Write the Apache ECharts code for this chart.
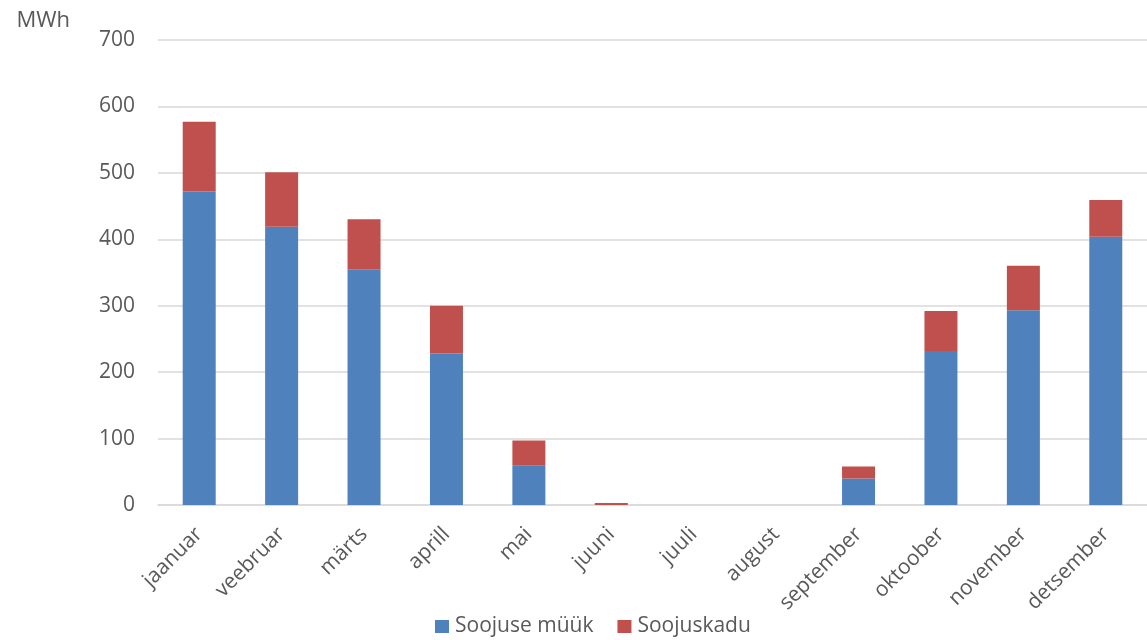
<!DOCTYPE html>
<html>
<head>
<meta charset="utf-8">
<script src="https://cdn.jsdelivr.net/npm/echarts@6/dist/echarts.min.js"></script>
<style>
    html, body { margin: 0; padding: 0; background: #fff; }
    #chart { width: 1147px; height: 640px; }
</style>
</head>
<body>
<div id="chart"></div>
<script>
// kuud
const kuud = ['jaanuar', 'veebruar', 'märts', 'aprill', 'mai', 'juuni', 'juuli', 'august', 'september', 'oktoober', 'november', 'detsember'];

// MWh
const soojuseMyyk = [472, 419, 355, 228, 59, 0, 0, 0, 40, 232, 293, 404];
const soojuskadu = [105, 82, 75, 72, 38, 3, 0, 0, 18, 60, 67, 55];

const yTicks = [0, 100, 200, 300, 400, 500, 600, 700];

const teksti = '#595959';
const font = 'Open Sans';

var myChart = echarts.init(document.getElementById('chart'));

var option = {
    animation: false,
    textStyle: { fontFamily: font },
    grid: {
        left: 158,
        top: 40,
        width: 998,
        height: 465,
        containLabel: false
    },
    legend: {
        top: 611,
        left: 430,
        itemWidth: 14,
        itemHeight: 13,
        itemGap: 24,
        icon: 'rect',
        textStyle: { color: teksti, fontSize: 21, fontFamily: font, padding: [0, 0, 0, 1] },
        data: ['Soojuse müük', 'Soojuskadu']
    },
    xAxis: {
        type: 'category',
        data: kuud,
        axisLine: { lineStyle: { color: '#d9d9d9', width: 1.5 } },
        axisTick: { show: false },
        axisLabel: {
            color: teksti,
            fontSize: 21,
            rotate: 45,
            margin: 26,
            interval: 0
        }
    },
    yAxis: {
        type: 'value',
        name: 'MWh',
        nameLocation: 'end',
        nameGap: 8,
        nameTextStyle: { color: teksti, fontSize: 22, align: 'right', padding: [0, 88, 0, 0] },
        min: yTicks[0],
        max: yTicks[yTicks.length - 1],
        interval: 100,
        axisLine: { show: false },
        axisTick: { show: false },
        axisLabel: { color: teksti, fontSize: 21, margin: 23 },
        splitLine: { lineStyle: { color: '#d9d9d9', width: 1.5 } }
    },
    series: [
        {
            name: 'Soojuse müük',
            type: 'bar',
            stack: 'kokku',
            barWidth: 33,
            itemStyle: { color: '#4f81bd' },
            data: soojuseMyyk
        },
        {
            name: 'Soojuskadu',
            type: 'bar',
            stack: 'kokku',
            barWidth: 33,
            itemStyle: { color: '#c0504d' },
            data: soojuskadu
        }
    ]
};

option && myChart.setOption(option);
</script>
</body>
</html>
